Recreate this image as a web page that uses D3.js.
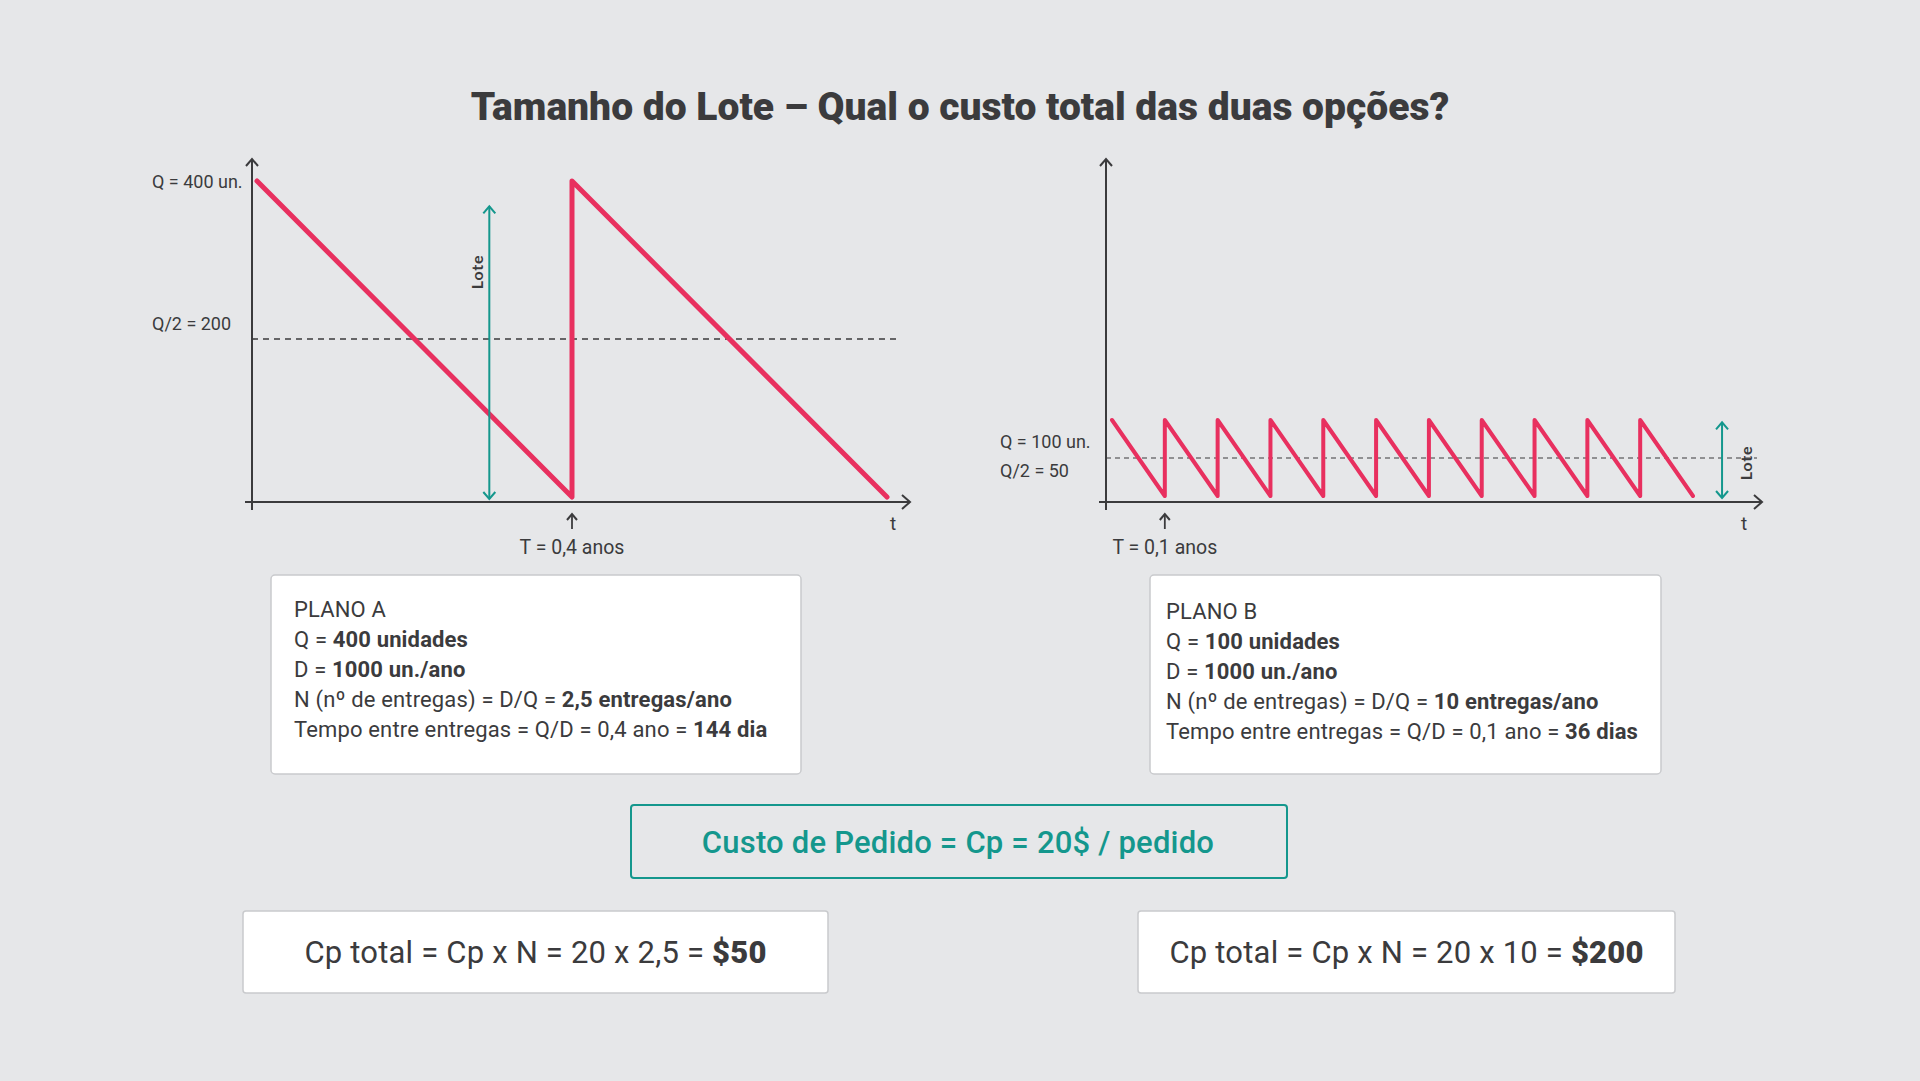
<!DOCTYPE html>
<html>
<head>
<meta charset="utf-8">
<script src="https://cdn.jsdelivr.net/npm/d3@7"></script>
<style>
  html, body { margin: 0; padding: 0; background: #e6e7e9; }
  svg { display: block; }
  text { font-family: Roboto, "Open Sans", sans-serif; fill: #3b3b3d; }
</style>
</head>
<body>
<svg id="chart" width="1920" height="1081"></svg>
<script>
// ---------------- data ----------------
const titleText = "Tamanho do Lote – Qual o custo total das duas opções?";

// Plan A: inventory level over time (years), Q = 400
const planATime = [0, 0.4, 0.4, 0.8];
const planAQty  = [400, 0, 400, 0];
const planAHalf = 200;
const planAPeriod = 0.4;

// Plan B: inventory level over time (years), Q = 100
const planBTime = [0, 0.1, 0.1, 0.2, 0.2, 0.3, 0.3, 0.4, 0.4, 0.5, 0.5, 0.6, 0.6, 0.7, 0.7, 0.8, 0.8, 0.9, 0.9, 1.0, 1.0, 1.1];
const planBQty  = [100, 0, 100, 0, 100, 0, 100, 0, 100, 0, 100, 0, 100, 0, 100, 0, 100, 0, 100, 0, 100, 0];
const planBHalf = 50;
const planBPeriod = 0.1;

const labelsA = { q: "Q = 400 un.", half: "Q/2 = 200", period: "T = 0,4 anos", t: "t", lote: "Lote" };
const labelsB = { q: "Q = 100 un.", half: "Q/2 = 50", period: "T = 0,1 anos", t: "t", lote: "Lote" };

const planoALines = [
  [["PLANO A", false]],
  [["Q = ", false], ["400 unidades", true]],
  [["D = ", false], ["1000 un./ano", true]],
  [["N (nº de entregas) = D/Q = ", false], ["2,5 entregas/ano", true]],
  [["Tempo entre entregas = Q/D = 0,4 ano = ", false], ["144 dia", true]]
];
const planoBLines = [
  [["PLANO B", false]],
  [["Q = ", false], ["100 unidades", true]],
  [["D = ", false], ["1000 un./ano", true]],
  [["N (nº de entregas) = D/Q = ", false], ["10 entregas/ano", true]],
  [["Tempo entre entregas = Q/D = 0,1 ano = ", false], ["36 dias", true]]
];
const custoPedidoText = "Custo de Pedido = Cp = 20$ / pedido";
const cpTotalA = [["Cp total = Cp x N = 20 x 2,5 = ", false], ["$50", true]];
const cpTotalB = [["Cp total = Cp x N = 20 x 10 = ", false], ["$200", true]];

// ---------------- style ----------------
const PINK = "#e8305f";
const TEAL = "#14978d";
const AXIS = "#3b3b3d";

const svg = d3.select("#chart");
svg.append("rect").attr("width", 1920).attr("height", 1081).attr("fill", "#e6e7e9");

// title
svg.append("text")
  .attr("x", 960).attr("y", 120)
  .attr("text-anchor", "middle")
  .style("font-size", "39px").style("font-weight", 900)
  .style("letter-spacing", "0px")
  .text(titleText);

function chevron(g, x, y, dir, color, w, h) {
  let pts;
  if (dir === "up") pts = [[x - w, y + h], [x, y], [x + w, y + h]];
  else if (dir === "down") pts = [[x - w, y - h], [x, y], [x + w, y - h]];
  else pts = [[x - h, y - w], [x, y], [x - h, y + w]];
  g.append("path").attr("d", d3.line()(pts))
    .attr("fill", "none").attr("stroke", color).attr("stroke-width", 2)
    .attr("stroke-linejoin", "miter");
}

function drawPanel(cfg) {
  const g = svg.append("g");
  const x = d3.scaleLinear().domain(cfg.xDomain).range(cfg.xRange);
  const y = d3.scaleLinear().domain(cfg.yDomain).range(cfg.yRange);
  const axisY = 502;
  const ax = cfg.axisX;

  // dashed half line
  g.append("line")
    .attr("x1", ax).attr("x2", cfg.dashEnd)
    .attr("y1", y(cfg.half)).attr("y2", y(cfg.half))
    .attr("stroke", AXIS).attr("stroke-width", cfg.dashW)
    .attr("stroke-dasharray", cfg.dash);

  // axes
  g.append("line").attr("x1", ax).attr("x2", ax).attr("y1", 159).attr("y2", 510)
    .attr("stroke", AXIS).attr("stroke-width", 2);
  chevron(g, ax, 159, "up", AXIS, 6, 7);
  g.append("line").attr("x1", ax - 7).attr("x2", cfg.axisEnd).attr("y1", axisY).attr("y2", axisY)
    .attr("stroke", AXIS).attr("stroke-width", 2);
  chevron(g, cfg.axisEnd, axisY, "right", AXIS, 7, 8);

  // sawtooth
  const pts = cfg.time.map((t, i) => [x(t), y(cfg.qty[i])]);
  g.append("path").attr("d", d3.line()(pts))
    .attr("fill", "none").attr("stroke", PINK).attr("stroke-width", cfg.lineW)
    .attr("stroke-linejoin", "round").attr("stroke-linecap", "round");

  // lote arrow
  const lx = x(cfg.loteT);
  const ly1 = y(cfg.loteTop), ly2 = y(0) + 2;
  g.append("line").attr("x1", lx).attr("x2", lx).attr("y1", ly1).attr("y2", ly2)
    .attr("stroke", TEAL).attr("stroke-width", 2);
  chevron(g, lx, ly1, "up", TEAL, 6, 7);
  chevron(g, lx, ly2, "down", TEAL, 6, 7);
  g.append("text")
    .attr("transform", `translate(${lx + cfg.loteDx},${cfg.loteY}) rotate(-90)`)
    .attr("text-anchor", "middle")
    .style("font-family", "Lato, sans-serif").style("font-size", "16px").style("font-weight", 700)
    .style("letter-spacing", "0.8px")
    .text(cfg.labels.lote);

  // period arrow
  const px = x(cfg.period);
  g.append("line").attr("x1", px).attr("x2", px).attr("y1", 514).attr("y2", 529)
    .attr("stroke", AXIS).attr("stroke-width", 1.8);
  chevron(g, px, 514, "up", AXIS, 5, 6);
  g.append("text").attr("x", px).attr("y", 554).attr("text-anchor", "middle")
    .style("font-size", "19.5px").text(cfg.labels.period);

  // t label
  g.append("text").attr("x", cfg.tX).attr("y", 530).attr("text-anchor", "middle")
    .style("font-size", "19px").text(cfg.labels.t);

  // q labels
  g.append("text").attr("x", cfg.labelX).attr("y", cfg.qLabelY)
    .style("font-size", "18px").text(cfg.labels.q);
  g.append("text").attr("x", cfg.labelX).attr("y", cfg.halfLabelY)
    .style("font-size", "18px").text(cfg.labels.half);
}

drawPanel({
  xDomain: [0, 0.8], xRange: [257, 887],
  yDomain: [0, 400], yRange: [497, 181],
  time: planATime, qty: planAQty, half: planAHalf, period: planAPeriod,
  axisX: 252, axisEnd: 910, dashEnd: 900, dash: "6,5", dashW: 1.6,
  lineW: 5, loteT: 0.295, loteTop: 368, loteDx: -6, loteY: 272,
  tX: 893, labelX: 152, qLabelY: 188, halfLabelY: 330,
  labels: labelsA
});

drawPanel({
  xDomain: [0, 1.1], xRange: [1112, 1693],
  yDomain: [0, 100], yRange: [496, 420],
  time: planBTime, qty: planBQty, half: planBHalf, period: planBPeriod,
  axisX: 1106, axisEnd: 1762, dashEnd: 1757, dash: "5,4", dashW: 1.2,
  lineW: 4, loteT: 1.155, loteTop: 97, loteDx: 30, loteY: 463,
  tX: 1744, labelX: 1000, qLabelY: 448, halfLabelY: 477,
  labels: labelsB
});

// info boxes
function infoBox(bx, by, bw, bh, tx, ty0, lines) {
  svg.append("rect").attr("x", bx).attr("y", by).attr("width", bw).attr("height", bh)
    .attr("rx", 4).attr("fill", "#ffffff").attr("stroke", "#c9cacd").attr("stroke-width", 1.5);
  lines.forEach((parts, i) => {
    const t = svg.append("text").attr("x", tx).attr("y", ty0 + i * 30)
      .style("font-size", "22px").style("letter-spacing", "0.15px");
    parts.forEach(([s, b]) => t.append("tspan").style("font-weight", b ? 700 : 400).text(s));
  });
}
infoBox(271, 575, 530, 199, 294, 617, planoALines);
infoBox(1150, 575, 511, 199, 1166, 619, planoBLines);

// custo de pedido
svg.append("rect").attr("x", 631).attr("y", 805).attr("width", 656).attr("height", 73)
  .attr("rx", 3).attr("fill", "none").attr("stroke", TEAL).attr("stroke-width", 2);
svg.append("text").attr("x", 958).attr("y", 853).attr("text-anchor", "middle")
  .style("font-size", "31px").style("font-weight", 500).style("fill", TEAL)
  .style("letter-spacing", "0.2px")
  .text(custoPedidoText);

// totals
function totalBox(bx, by, bw, bh, parts) {
  svg.append("rect").attr("x", bx).attr("y", by).attr("width", bw).attr("height", bh)
    .attr("rx", 3).attr("fill", "#ffffff").attr("stroke", "#c9cacd").attr("stroke-width", 1.5);
  const t = svg.append("text").attr("x", bx + bw / 2).attr("y", by + bh / 2 + 11)
    .attr("text-anchor", "middle").style("font-size", "31px").style("letter-spacing", "0.2px");
  parts.forEach(([s, b]) => t.append("tspan").style("font-weight", b ? 900 : 400).text(s));
}
totalBox(243, 911, 585, 82, cpTotalA);
totalBox(1138, 911, 537, 82, cpTotalB);
</script>
</body>
</html>
